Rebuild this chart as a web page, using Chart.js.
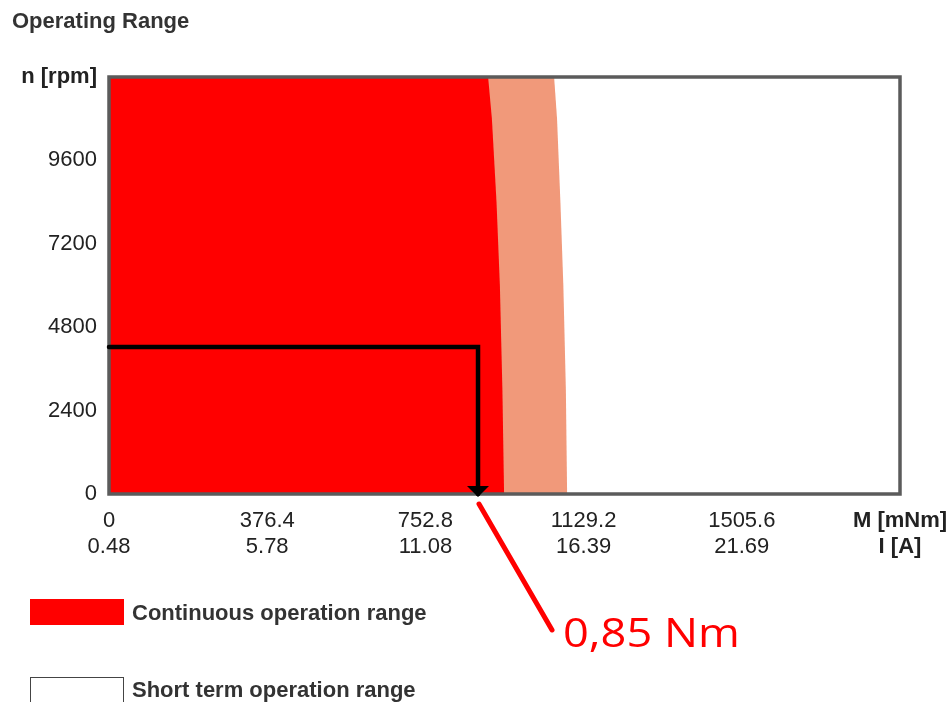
<!DOCTYPE html>
<html>
<head>
<meta charset="utf-8">
<title>Operating Range</title>
<script src="https://cdn.jsdelivr.net/npm/chart.js@4.4.1/dist/chart.umd.min.js"></script>
<style>
    html, body { margin: 0; padding: 0; background: #fff; }
    #wrap { position: relative; width: 949px; height: 702px; overflow: hidden; }
    #opChart { position: absolute; left: 0; top: 0; }
    .txt { position: absolute; font: bold 22px "Liberation Sans", Arial, sans-serif; color: #333; line-height: 26px; white-space: nowrap; }
    .swatch { position: absolute; left: 30px; width: 94px; box-sizing: border-box; }
</style>
</head>
<body>
<div id="wrap">
    <canvas id="opChart" width="949" height="702"></canvas>
    <div class="txt" style="left:12px; top:8px;">Operating Range</div>
    <div class="swatch" style="top:599px; height:26px; background:#ff0000;"></div>
    <div class="txt" style="left:132px; top:600px;">Continuous operation range</div>
    <div class="swatch" style="top:677px; height:30px; border:1px solid #444; background:#fff;"></div>
    <div class="txt" style="left:132px; top:677px;">Short term operation range</div>
</div>
<script>
// axis ticks
const speedTicks = [0, 2400, 4800, 7200, 9600, 12000];
const speedTickLabels = ['0', '2400', '4800', '7200', '9600', 'n [rpm]'];
const torqueTicks = [0, 376.4, 752.8, 1129.2, 1505.6, 1882];
const torqueTickLabels = ['0', '376.4', '752.8', '1129.2', '1505.6', 'M [mNm]'];
const currentTickLabels = ['0.48', '5.78', '11.08', '16.39', '21.69', 'I [A]'];

// limit curves (torque in mNm at given speed)
const boundarySpeed = [12000, 10800, 8400, 6000, 3000, 0];
const continuousTorque = [902, 911, 922, 930, 936, 940];
const shortTermTorque = [1059, 1066, 1074, 1081, 1087, 1090];

// operating point marker
const markSpeed = [4230, 4230, 0];
const markTorque = [0, 878, 878];
const markLabel = '0,85 Nm';

const FONT = '"Liberation Sans", Arial, sans-serif';

function regionPoints(torques) {
    const pts = [{ x: 0, y: 0 }, { x: 0, y: boundarySpeed[0] }];
    torques.forEach((t, i) => pts.push({ x: t, y: boundarySpeed[i] }));
    return pts;
}

const markerIndex = 2;

const annotate = {
    id: 'annotate',
    beforeDatasetDraw(chart, args) {
        if (args.index !== markerIndex) return;
        const { ctx, chartArea: a } = chart;
        ctx.save();
        ctx.strokeStyle = '#5b5b5b';
        ctx.lineWidth = 3.5;
        ctx.strokeRect(a.left, a.top, a.right - a.left, a.bottom - a.top);
        ctx.restore();
    },
    afterDatasetsDraw(chart) {
        const { ctx, scales } = chart;
        const last = markTorque.length - 1;
        const xp = scales.x.getPixelForValue(markTorque[last]);
        const yp = scales.y.getPixelForValue(markSpeed[last]);
        ctx.save();
        // arrow head
        ctx.fillStyle = '#000';
        ctx.beginPath();
        ctx.moveTo(xp - 11, yp - 8);
        ctx.lineTo(xp + 11, yp - 8);
        ctx.lineTo(xp, yp + 3);
        ctx.closePath();
        ctx.fill();
        // leader line + label
        ctx.strokeStyle = '#ff0000';
        ctx.lineWidth = 5;
        ctx.lineCap = 'round';
        ctx.beginPath();
        ctx.moveTo(xp + 1, yp + 10);
        ctx.lineTo(xp + 74, yp + 136);
        ctx.stroke();
        ctx.fillStyle = '#ff0000';
        ctx.font = '40px "Open Sans", sans-serif';
        ctx.textBaseline = 'alphabetic';
        ctx.translate(xp + 85, yp + 153);
        ctx.scale(1.13, 1);
        ctx.fillText(markLabel, 0, 0);
        ctx.restore();
    }
};

const ctx = document.getElementById('opChart').getContext('2d');

new Chart(ctx, {
    type: 'scatter',
    data: {
        datasets: [
            {
                label: 'Continuous operation range',
                data: regionPoints(continuousTorque),
                showLine: true,
                fill: 'shape',
                backgroundColor: '#ff0000',
                borderWidth: 0,
                pointRadius: 0,
                order: 1
            },
            {
                label: 'Short term operation range',
                data: regionPoints(shortTermTorque),
                showLine: true,
                fill: 'shape',
                backgroundColor: '#f1997a',
                borderWidth: 0,
                pointRadius: 0,
                order: 2
            },
            {
                label: 'marker',
                data: markTorque.map((t, i) => ({ x: t, y: markSpeed[i] })),
                showLine: true,
                fill: false,
                borderColor: '#000',
                borderWidth: 4.5,
                borderCapStyle: 'round',
                borderJoinStyle: 'miter',
                pointRadius: 0,
                clip: false,
                order: 0
            }
        ]
    },
    options: {
        responsive: false,
        animation: false,
        events: [],
        layout: { padding: { top: 77, left: 0, right: 49, bottom: 0 } },
        plugins: {
            legend: { display: false },
            title: { display: false },
            tooltip: { enabled: false }
        },
        scales: {
            x: {
                type: 'linear',
                min: 0,
                max: 1882,
                grid: { display: false, drawTicks: false },
                border: { display: false },
                afterBuildTicks: s => { s.ticks = torqueTicks.map(v => ({ value: v })); },
                afterFit: s => { s.height = 208; s.paddingLeft = 0; s.paddingRight = 0; },
                ticks: {
                    autoSkip: false,
                    maxRotation: 0,
                    padding: 14,
                    color: '#222',
                    font: c => ({ family: FONT, size: 22, weight: c.index === torqueTicks.length - 1 ? 'bold' : 'normal', lineHeight: 1.18 }),
                    callback: (v, i) => [torqueTickLabels[i], currentTickLabels[i]]
                }
            },
            y: {
                type: 'linear',
                min: 0,
                max: 12000,
                grid: { display: false, drawTicks: false },
                border: { display: false },
                afterBuildTicks: s => { s.ticks = speedTicks.map(v => ({ value: v })); },
                afterFit: s => { s.width = 109; s.paddingTop = 0; s.paddingBottom = 0; },
                ticks: {
                    autoSkip: false,
                    padding: 12,
                    color: '#222',
                    font: c => ({ family: FONT, size: 22, weight: c.index === speedTicks.length - 1 ? 'bold' : 'normal' }),
                    callback: (v, i) => speedTickLabels[i]
                }
            }
        }
    },
    plugins: [annotate]
});
</script>
</body>
</html>
